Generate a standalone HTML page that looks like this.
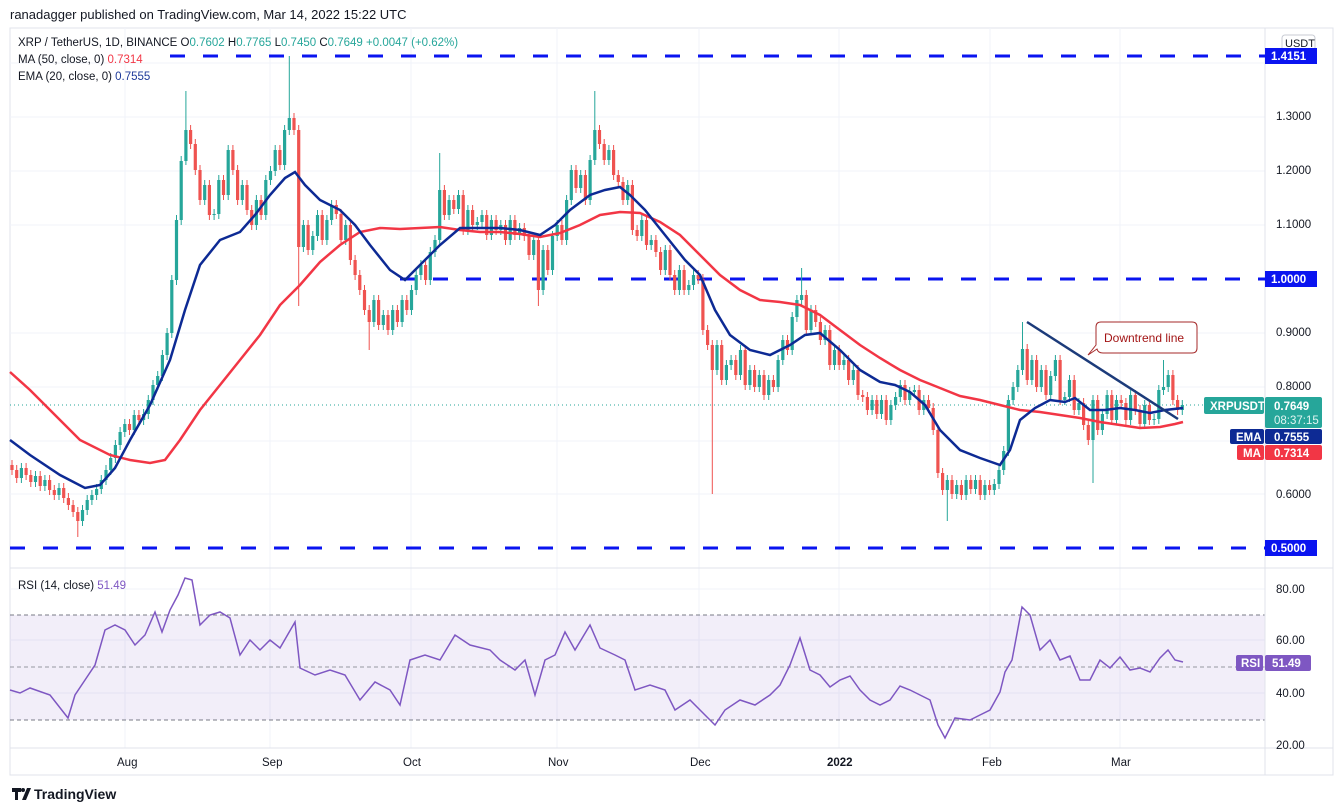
<!DOCTYPE html>
<html><head><meta charset="utf-8"><style>
html,body{margin:0;padding:0;background:#fff;width:1343px;height:811px;overflow:hidden}
svg{display:block}
text{font-family:"Liberation Sans","DejaVu Sans",sans-serif}
</style></head><body>
<svg width="1343" height="811" xmlns="http://www.w3.org/2000/svg">
<rect width="1343" height="811" fill="#fff"/>
<text x="10" y="19" font-size="13" fill="#131722">ranadagger published on TradingView.com, Mar 14, 2022 15:22 UTC</text>
<rect x="10" y="28" width="1323" height="747" fill="none" stroke="#e0e3eb"/>
<g stroke="#f0f3fa" stroke-width="1">
<path d="M125 28V748M270 28V748M411 28V748M557 28V748M699 28V748M839 28V748M990 28V748M1120 28V748"/>
<path d="M10 63H1265M10 117H1265M10 171H1265M10 225H1265M10 333H1265M10 387H1265M10 441H1265M10 494H1265M10 640H1265M10 693H1265M10 589H1265"/>
</g>
<rect x="10" y="615" width="1255" height="105" fill="#7e57c2" fill-opacity="0.1"/>
<line x1="10" y1="615" x2="1265" y2="615" stroke="#787b86" stroke-dasharray="4,3"/>
<line x1="10" y1="667" x2="1265" y2="667" stroke="#9598a1" stroke-dasharray="4,3"/>
<line x1="10" y1="720" x2="1265" y2="720" stroke="#787b86" stroke-dasharray="4,3"/>
<line x1="1265" y1="28" x2="1265" y2="775" stroke="#e0e3eb"/>
<line x1="10" y1="568" x2="1333" y2="568" stroke="#e0e3eb"/>
<line x1="10" y1="748" x2="1333" y2="748" stroke="#e0e3eb"/>
<line x1="10" y1="405" x2="1265" y2="405" stroke="#26a69a" stroke-dasharray="1,3"/>
<g stroke="#0a14f0" stroke-width="3" stroke-dasharray="15,18">
<line x1="170" y1="56" x2="1265" y2="56"/>
<line x1="400" y1="279" x2="1265" y2="279"/>
<line x1="10" y1="548" x2="1265" y2="548"/>
</g>
<!-- green candles -->
<path fill="none" stroke="#26a69a" stroke-width="1" d="M21.4 463V483M35.5 471V487M44.9 475V491M59 483V500M82.5 505V526M87.2 495V515M91.9 490V505M96.6 484V500M101.3 475V494M106 465V485M110.7 453V475M115.4 440V463M120.1 427V450M124.8 419V437M134.2 410V435M143.6 409V425M148.3 395V419M153 380V405M157.7 371V390M162.4 350V381M167.1 328V360M171.8 275V338M176.5 215V285M181.2 156V225M185.9 91V165M204.7 180V205M214.1 209V220M218.8 175V219M228.2 145V200M242.3 180V205M256.4 195V230M265.8 175V220M270.5 166V185M275.2 145V176M284.6 125V170M289.3 56V135M303.4 220V252M312.8 231V255M317.5 210V241M326.9 215V245M331.6 200V225M345.7 220V245M373.9 295V327M383.3 310V330M392.7 305V335M402.1 295V327M411.5 285V315M416.2 270V295M420.9 260V280M430.3 247V285M435 235V257M439.7 153V245M449.1 195V220M458.5 190V214M467.9 205V235M477.3 217V230M482 210V227M491.4 215V240M500.8 220V235M510.2 215V245M519.6 223V240M533.7 235V260M543.1 245V295M552.5 231V275M557.2 220V241M566.6 195V245M571.3 165V205M580.7 170V193M590.1 155V205M594.8 91V165M608.9 145V165M627.7 180V205M641.8 215V241M651.2 235V250M665.3 245V275M679.4 265V295M688.8 280V295M693.5 270V290M717 340V375M726.4 360V385M731.1 355V370M740.5 345V380M749.9 365V390M759.3 370V392M768.7 375V400M778.1 355V392M782.8 335V365M792.2 312V355M796.9 295V322M801.6 268V305M811 305V335M825.1 325V345M834.5 345V370M843.9 355V370M853.3 365V385M872.1 395V415M881.5 395V419M890.9 400V425M895.6 392V410M900.3 380V402M909.7 387V405M914.4 385V397M923.8 395V415M947.3 475V521M956.7 480V499M966.1 475V500M975.5 475V494M984.9 480V500M994.3 479V495M999 465V489M1003.7 446V475M1008.4 395V456M1013.1 382V405M1017.8 365V392M1022.5 322V375M1031.9 355V385M1041.3 365V392M1050.7 371V400M1055.4 355V381M1064.8 392V405M1069.5 375V402M1078.9 398V415M1093 395V483M1102.4 409V435M1107.1 390V419M1116.5 395V425M1130.6 390V425M1144.7 400V429M1154.1 414V425M1158.8 385V424M1163.5 360V395M1168.2 370V392M1182.3 400V415"/>
<path fill="none" stroke="#26a69a" stroke-width="3.2" d="M21.4 478V468M35.5 482V476M44.9 486V480M59 495V488M82.5 521V510M87.2 510V500M91.9 500V495M96.6 495V489M101.3 489V480M106 480V470M110.7 470V458M115.4 458V445M120.1 445V432M124.8 432V424M134.2 430V415M143.6 420V414M148.3 414V400M153 400V385M157.7 385V376M162.4 376V355M167.1 355V333M171.8 333V280M176.5 280V220M181.2 220V161M185.9 161V130M204.7 200V185M214.1 215V214M218.8 214V180M228.2 195V150M242.3 200V185M256.4 225V200M265.8 215V180M270.5 180V171M275.2 171V150M284.6 165V130M289.3 130V118M303.4 247V225M312.8 250V236M317.5 236V215M326.9 240V220M331.6 220V205M345.7 240V225M373.9 322V300M383.3 325V315M392.7 330V310M402.1 322V300M411.5 310V290M416.2 290V275M420.9 275V265M430.3 280V252M435 252V240M439.7 240V190M449.1 215V200M458.5 209V195M467.9 230V210M477.3 225V222M482 222V215M491.4 235V220M500.8 230V225M510.2 240V220M519.6 235V228M533.7 255V240M543.1 290V250M552.5 270V236M557.2 236V225M566.6 240V200M571.3 200V170M580.7 188V175M590.1 200V160M594.8 160V130M608.9 160V150M627.7 200V185M641.8 236V220M651.2 245V240M665.3 270V250M679.4 290V270M688.8 290V285M693.5 285V275M717 370V345M726.4 380V365M731.1 365V360M740.5 375V350M749.9 385V370M759.3 387V375M768.7 395V380M778.1 387V360M782.8 360V340M792.2 350V317M796.9 317V300M801.6 300V295M811 330V310M825.1 340V330M834.5 365V350M843.9 365V360M853.3 380V370M872.1 410V400M881.5 414V400M890.9 420V405M895.6 405V397M900.3 397V385M909.7 400V392M914.4 392V390M923.8 410V400M947.3 490V480M956.7 494V485M966.1 495V480M975.5 489V480M984.9 495V485M994.3 490V484M999 484V470M1003.7 470V451M1008.4 451V400M1013.1 400V387M1017.8 387V370M1022.5 370V349M1031.9 380V360M1041.3 387V370M1050.7 395V376M1055.4 376V360M1064.8 400V397M1069.5 397V380M1078.9 410V403M1093 440V400M1102.4 430V414M1107.1 414V395M1116.5 420V400M1130.6 420V395M1144.7 424V405M1154.1 420V419M1158.8 419V390M1163.5 390V387M1168.2 387V375M1182.3 410V405"/>
<!-- red candles -->
<path fill="none" stroke="#ef5350" stroke-width="1" d="M12 460V475M16.7 465V483M26.1 463V480M30.8 470V487M40.2 471V491M49.6 475V495M54.3 485V500M63.7 483V503M68.4 493V510M73.1 500V517M77.8 507V537M129.5 419V435M138.9 410V425M190.6 125V149M195.3 139V175M200 165V205M209.4 180V220M223.5 175V200M232.9 145V175M237.6 165V205M247 180V215M251.7 205V230M261.1 195V220M279.9 145V170M294 113V135M298.7 125V306M308.1 220V255M322.2 210V245M336.3 200V219M341 209V245M350.4 220V265M355.1 255V280M359.8 270V295M364.5 285V315M369.2 305V350M378.6 295V330M388 310V335M397.4 305V327M406.8 295V315M425.6 260V285M444.4 185V220M453.8 195V214M463.2 190V235M472.6 205V230M486.7 210V240M496.1 215V235M505.5 220V245M514.9 215V240M524.3 223V241M529 231V260M538.4 235V306M547.8 245V275M561.9 220V245M576 165V193M585.4 170V205M599.5 125V149M604.2 139V165M613.6 145V180M618.3 170V187M623 177V205M632.4 180V235M637.1 225V241M646.5 215V250M655.9 235V257M660.6 247V275M670 245V280M674.7 270V295M684.1 265V295M698.2 270V284M702.9 274V335M707.6 325V350M712.3 340V494M721.7 340V385M735.8 355V380M745.2 345V390M754.6 365V392M764 370V400M773.4 375V392M787.5 335V355M806.3 290V335M815.7 305V327M820.4 317V345M829.8 325V370M839.2 345V370M848.6 355V385M858 365V400M862.7 390V402M867.4 392V415M876.8 395V419M886.2 395V425M905 380V405M919.1 385V415M928.5 395V413M933.2 403V435M937.9 425V478M942.6 468V495M952 475V499M961.4 480V500M970.8 475V494M980.2 475V500M989.6 480V495M1027.2 344V385M1036.6 355V392M1046 365V400M1060.1 355V405M1074.2 375V415M1083.6 398V430M1088.3 420V445M1097.7 395V435M1111.8 390V425M1121.2 395V408M1125.9 398V425M1135.3 390V415M1140 405V429M1149.4 400V425M1172.9 370V405M1177.6 395V415"/>
<path fill="none" stroke="#ef5350" stroke-width="3.2" d="M12 465V470M16.7 470V478M26.1 468V475M30.8 475V482M40.2 476V486M49.6 480V490M54.3 490V495M63.7 488V498M68.4 498V505M73.1 505V512M77.8 512V521M129.5 424V430M138.9 415V420M190.6 130V144M195.3 144V170M200 170V200M209.4 185V215M223.5 180V195M232.9 150V170M237.6 170V200M247 185V210M251.7 210V225M261.1 200V215M279.9 150V165M294 118V130M298.7 130V247M308.1 225V250M322.2 215V240M336.3 205V214M341 214V240M350.4 225V260M355.1 260V275M359.8 275V290M364.5 290V310M369.2 310V322M378.6 300V325M388 315V330M397.4 310V322M406.8 300V310M425.6 265V280M444.4 190V215M453.8 200V209M463.2 195V230M472.6 210V225M486.7 215V235M496.1 220V230M505.5 225V240M514.9 220V235M524.3 228V236M529 236V255M538.4 240V290M547.8 250V270M561.9 225V240M576 170V188M585.4 175V200M599.5 130V144M604.2 144V160M613.6 150V175M618.3 175V182M623 182V200M632.4 185V230M637.1 230V236M646.5 220V245M655.9 240V252M660.6 252V270M670 250V275M674.7 275V290M684.1 270V290M698.2 275V279M702.9 279V330M707.6 330V345M712.3 345V370M721.7 345V380M735.8 360V375M745.2 350V385M754.6 370V387M764 375V395M773.4 380V387M787.5 340V350M806.3 295V330M815.7 310V322M820.4 322V340M829.8 330V365M839.2 350V365M848.6 360V380M858 370V395M862.7 395V397M867.4 397V410M876.8 400V414M886.2 400V420M905 385V400M919.1 390V410M928.5 400V408M933.2 408V430M937.9 430V473M942.6 473V490M952 480V494M961.4 485V495M970.8 480V489M980.2 480V495M989.6 485V490M1027.2 349V380M1036.6 360V387M1046 370V395M1060.1 360V400M1074.2 380V410M1083.6 403V425M1088.3 425V440M1097.7 400V430M1111.8 395V420M1121.2 400V403M1125.9 403V420M1135.3 395V410M1140 410V424M1149.4 405V420M1172.9 375V400M1177.6 400V410"/>
<!-- MA / EMA -->
<polyline fill="none" stroke="#f23645" stroke-width="2.5" points="10,372 30,390 50,410 80,440 110,455 130,460 150,463 165,460 180,440 200,410 220,385 240,360 260,335 280,305 300,285 320,262 340,245 360,232 380,228 400,229 420,228 440,227 460,230 480,232 500,232 520,234 540,237 560,233 580,225 600,215 620,212 640,213 660,222 680,235 700,255 720,275 740,290 760,300 780,302 800,305 820,315 840,330 860,345 880,358 900,370 920,380 940,388 960,396 980,400 1000,405 1020,410 1040,412 1060,415 1080,418 1100,422 1120,425 1140,428 1160,427 1175,424 1183,422"/>
<polyline fill="none" stroke="#0d2a94" stroke-width="2.5" points="10,440 30,455 60,475 85,488 100,485 115,468 130,440 150,405 170,360 185,310 200,265 220,240 240,232 255,215 270,195 285,178 295,172 305,185 320,200 340,210 355,225 370,245 390,270 405,280 420,265 440,245 460,228 480,228 500,228 520,230 540,235 555,225 570,210 590,195 605,190 620,187 630,195 645,210 665,235 685,260 700,275 715,310 730,335 750,350 770,355 790,345 805,335 820,333 840,350 860,370 880,382 895,385 910,392 925,405 940,430 960,450 980,458 1000,465 1010,450 1020,420 1035,408 1050,400 1065,402 1075,398 1090,410 1105,410 1120,408 1135,410 1150,413 1165,410 1183,408"/>
<!-- RSI -->
<polyline fill="none" stroke="#7e57c2" stroke-width="1.5" points="10,690 20,693 30,688 50,695 68,718 75,695 85,680 95,665 105,630 115,625 125,630 135,645 145,635 155,612 162,632 170,610 178,595 185,578 192,580 200,625 210,615 220,612 230,618 240,655 250,640 260,650 270,640 280,648 295,622 300,668 315,675 330,670 345,675 360,700 375,682 390,690 400,705 410,660 425,655 440,660 455,635 470,645 490,650 500,660 515,670 525,660 535,695 545,660 555,655 565,632 575,650 590,625 600,648 615,655 625,660 635,690 650,685 665,690 675,710 690,700 705,715 715,725 725,710 740,700 755,705 770,695 780,685 790,665 800,638 810,670 820,675 830,687 840,680 850,676 860,690 870,700 880,705 890,700 900,686 910,690 920,695 930,700 938,725 945,738 955,718 970,720 980,715 990,710 1000,692 1005,672 1012,660 1022,607 1030,615 1040,650 1050,640 1060,660 1070,656 1080,680 1090,680 1100,660 1110,668 1120,657 1130,670 1140,668 1150,672 1160,658 1168,650 1175,660 1183,662"/>
<line x1="1027" y1="322" x2="1178" y2="419" stroke="#1c3b7a" stroke-width="2.5"/>
<path d="M1088,355 L1096,345 L1096,327 Q1096,322 1101,322 L1192,322 Q1197,322 1197,327 L1197,348 Q1197,353 1192,353 L1103,353 Q1098,353 1097,349 Z" fill="#fff" stroke="#a52a2a"/>
<text x="1104" y="342" font-size="12" fill="#a31515">Downtrend line</text>
<text x="18" y="46" font-size="11.5" fill="#131722">XRP / TetherUS, 1D, BINANCE  O<tspan fill="#26a69a">0.7602</tspan>  H<tspan fill="#26a69a">0.7765</tspan>  L<tspan fill="#26a69a">0.7450</tspan>  C<tspan fill="#26a69a">0.7649</tspan>  <tspan fill="#26a69a">+0.0047 (+0.62%)</tspan></text>
<text x="18" y="63" font-size="11.5" fill="#131722">MA (50, close, 0)  <tspan fill="#f23645">0.7314</tspan></text>
<text x="18" y="80" font-size="11.5" fill="#131722">EMA (20, close, 0)  <tspan fill="#1e3a9a">0.7555</tspan></text>
<text x="18" y="589" font-size="11.5" fill="#131722">RSI (14, close)  <tspan fill="#7e57c2">51.49</tspan></text>
<g font-size="11.5" fill="#131722">
<text x="1276" y="120">1.3000</text><text x="1276" y="174">1.2000</text><text x="1276" y="228">1.1000</text>
<text x="1276" y="336">0.9000</text><text x="1276" y="390">0.8000</text><text x="1276" y="498">0.6000</text>
<text x="1276" y="593">80.00</text><text x="1276" y="644">60.00</text><text x="1276" y="697">40.00</text><text x="1276" y="749">20.00</text>
</g>
<rect x="1282" y="35" width="33" height="16" rx="3" fill="#fff" stroke="#c8cbd3"/>
<text x="1285" y="47" font-size="11" fill="#131722">USDT</text>
<rect x="1265" y="48" width="52" height="16" fill="#0a14f0"/><text x="1271" y="60" font-size="11.5" font-weight="bold" fill="#fff">1.4151</text>
<rect x="1265" y="271" width="52" height="16" fill="#0a14f0"/><text x="1271" y="283" font-size="11.5" font-weight="bold" fill="#fff">1.0000</text>
<rect x="1265" y="540" width="52" height="16" fill="#0a14f0"/><text x="1271" y="552" font-size="11.5" font-weight="bold" fill="#fff">0.5000</text>
<rect x="1204" y="397" width="60" height="17" rx="2" fill="#26a69a"/><text x="1210" y="410" font-size="11.5" font-weight="bold" fill="#fff">XRPUSDT</text>
<rect x="1265" y="397" width="57" height="31" rx="2" fill="#26a69a"/><text x="1274" y="410" font-size="11.5" font-weight="bold" fill="#fff">0.7649</text><text x="1274" y="424" font-size="11.5" fill="#e0f5f2">08:37:15</text>
<rect x="1230" y="429" width="34" height="15" rx="2" fill="#0d2a94"/><text x="1236" y="441" font-size="11.5" font-weight="bold" fill="#fff">EMA</text>
<rect x="1265" y="429" width="57" height="15" rx="2" fill="#0d2a94"/><text x="1274" y="441" font-size="11.5" font-weight="bold" fill="#fff">0.7555</text>
<rect x="1237" y="445" width="27" height="15" rx="2" fill="#f23645"/><text x="1243" y="457" font-size="11.5" font-weight="bold" fill="#fff">MA</text>
<rect x="1265" y="445" width="57" height="15" rx="2" fill="#f23645"/><text x="1274" y="457" font-size="11.5" font-weight="bold" fill="#fff">0.7314</text>
<rect x="1236" y="655" width="27" height="16" rx="2" fill="#7e57c2"/><text x="1241" y="667" font-size="11.5" font-weight="bold" fill="#fff">RSI</text>
<rect x="1265" y="655" width="46" height="16" rx="2" fill="#7e57c2"/><text x="1272" y="667" font-size="11.5" font-weight="bold" fill="#fff">51.49</text>
<g font-size="11.5" fill="#131722">
<text x="117" y="766">Aug</text><text x="262" y="766">Sep</text><text x="403" y="766">Oct</text><text x="548" y="766">Nov</text>
<text x="690" y="766">Dec</text><text x="827" y="766" font-weight="bold">2022</text><text x="982" y="766">Feb</text><text x="1111" y="766">Mar</text>
</g>
<g transform="translate(12,786)"><path d="M0,2 h9 v4 h-3 v8 h-3 v-8 h-3z M10,14 l5,-12 h4 l-5,12z" fill="#131722"/><circle cx="11" cy="4" r="2" fill="#131722"/></g>
<text x="34" y="799" font-size="14" font-weight="bold" fill="#131722">TradingView</text>
</svg>
</body></html>
